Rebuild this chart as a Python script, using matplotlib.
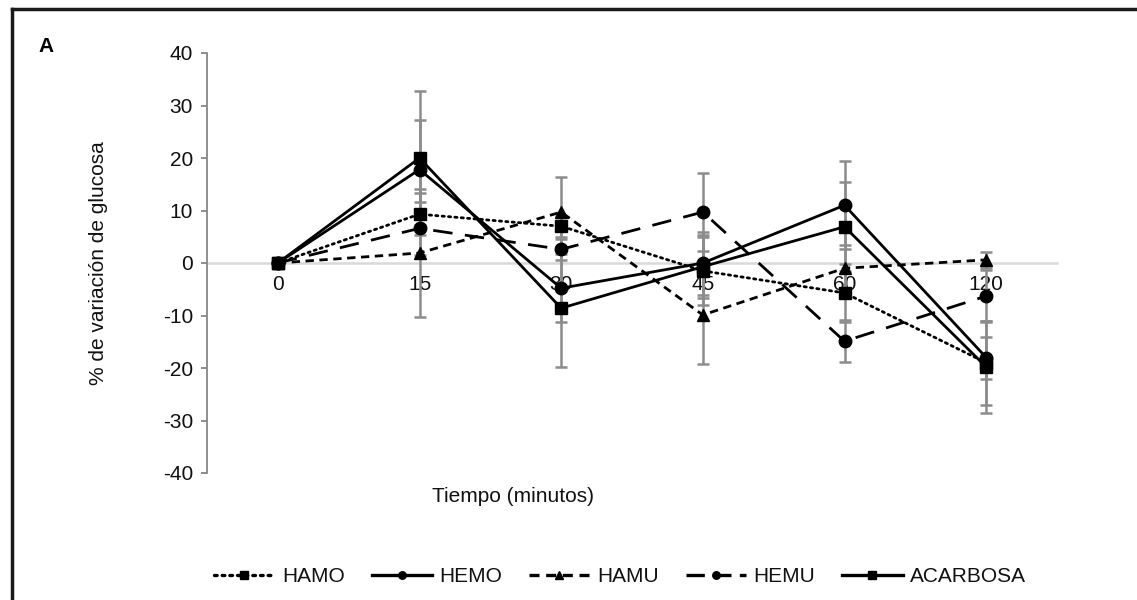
import matplotlib
matplotlib.use("Agg")
import matplotlib.pyplot as plt
from matplotlib.lines import Line2D
import numpy as np

plt.rcParams['font.family'] = ['Liberation Sans', 'DejaVu Sans']
plt.rcParams['axes.unicode_minus'] = False

categories = ["0", "15", "30", "45", "60", "120"]

hamo = [0, 9.3, 7.0, -1.5, -5.7, -19.0]
hemo = [0, 17.8, -4.8, 0.0, 11.0, -18.0]
hamu = [0, 1.9, 9.7, -9.9, -1.0, 0.6]
hemu = [0, 6.6, 2.6, 9.7, -14.9, -6.3]
acarbosa = [0, 20.0, -8.6, -0.7, 6.9, -19.8]

hamo_err = [0, 4.0, 2.0, 6.5, 5.5, 8.0]
hemo_err = [0, 9.4, 6.5, 6.0, 8.4, 4.0]
hamu_err = [0, 12.2, 6.7, 9.3, 4.4, 1.5]
hemu_err = [0, 5.0, 2.0, 7.5, 4.0, 5.0]
acarbosa_err = [0, 12.8, 11.2, 6.0, 8.5, 8.8]

series = [
    ("HAMO", hamo, hamo_err, dict(linestyle=(0, (0.8, 1.5)), marker='s', dash_capstyle='round')),
    ("HEMO", hemo, hemo_err, dict(linestyle='-', marker='o')),
    ("HAMU", hamu, hamu_err, dict(linestyle=(0, (3.0, 2.0)), marker='^')),
    ("HEMU", hemu, hemu_err, dict(linestyle=(0, (7, 4.5)), marker='o')),
    ("ACARBOSA", acarbosa, acarbosa_err, dict(linestyle='-', marker='s')),
]

W, H = 1137, 600
fig = plt.figure(figsize=(W / 100, H / 100), dpi=100)
ax = fig.add_axes([207 / W, 1 - 473 / H, 850 / W, 420 / H])

x = np.arange(len(categories))
for name, vals, errs, st in series:
    ax.errorbar(x, vals, yerr=errs, fmt='none', ecolor='#8c8c8c', elinewidth=1.8,
                capsize=4, capthick=1.8, zorder=2)
for name, vals, errs, st in series:
    ax.plot(x, vals, color='black', lw=2.0, markersize=9, label=name, zorder=3, **st)

ax.set_xlim(-0.5, len(categories) - 0.5)
ax.set_ylim(-40, 40)
ax.set_yticks(np.arange(-40, 41, 10))
ax.set_xticks(x)
ax.set_xticklabels(categories)

FS = 15
for s in ['top', 'right']:
    ax.spines[s].set_visible(False)
ax.spines['left'].set_color('#868686')
ax.spines['left'].set_linewidth(1.3)
ax.spines['bottom'].set_position(('data', 0))
ax.spines['bottom'].set_color('#d9d9d9')
ax.spines['bottom'].set_linewidth(1.8)
ax.spines['bottom'].set_zorder(1)
ax.tick_params(axis='y', direction='out', length=4, width=1.3, color='#868686',
               labelsize=FS, pad=6, labelcolor='#111111')
ax.tick_params(axis='x', length=0, labelsize=FS, pad=9, labelcolor='#111111')

ax.set_xlabel("Tiempo (minutos)", fontsize=FS, color='#111111')
ax.xaxis.set_label_coords((513 - 207) / 850, (473 - 487) / 420)
ax.set_ylabel("% de variación de glucosa", fontsize=FS, color='#111111')
ax.yaxis.set_label_coords((108 - 207) / 850, 0.5)

fig.text(38 / W, 1 - 47 / H, "A", fontsize=FS, fontweight='bold', va='center', ha='left')

handles, labels = ax.get_legend_handles_labels()
leg = fig.legend(handles, labels, loc='center', bbox_to_anchor=(620 / W, 1 - 577 / H),
                 ncol=5, frameon=False, fontsize=FS, handlelength=2.9,
                 handletextpad=0.35, columnspacing=1.3, markerscale=0.6)
for t in leg.get_texts():
    t.set_color('#111111')
leg.legend_handles[3].set_linestyle((0, (5.5, 2.5)))
for h in leg.legend_handles:
    h.set_linewidth(2.4)

# outer frame
fig.add_artist(Line2D([12 / W, 12 / W], [0, 1 - 9 / H], color='#1a1a1a', lw=2.5,
                      transform=fig.transFigure, solid_capstyle='projecting'))
fig.add_artist(Line2D([12 / W, 1], [1 - 9 / H, 1 - 9 / H], color='#1a1a1a', lw=2.5,
                      transform=fig.transFigure, solid_capstyle='projecting'))

fig.savefig("out.png", dpi=100)
